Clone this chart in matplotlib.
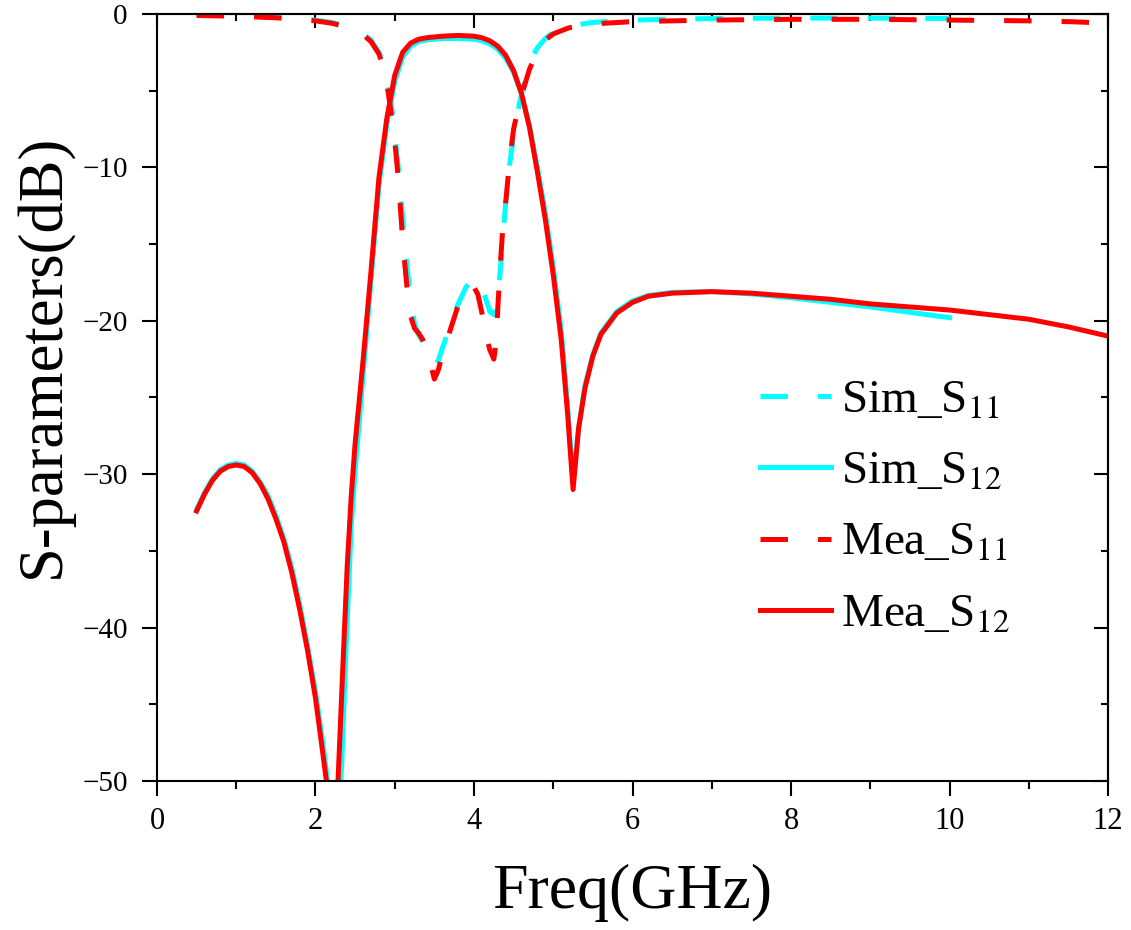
import matplotlib
matplotlib.use('Agg')
import matplotlib.pyplot as plt
from matplotlib.ticker import MultipleLocator

plt.rcParams['font.family'] = ['Liberation Serif', 'DejaVu Serif']
plt.rcParams['mathtext.fontset'] = 'stix'

# Sim S11 (dB)
sim_s11_f = [0.5, 1.0, 1.5, 2.0, 2.2, 2.4, 2.5, 2.6, 2.7, 2.8, 2.85, 2.9, 2.95, 3.0,
             3.05, 3.1, 3.15, 3.2, 3.25, 3.3, 3.4, 3.45, 3.5, 3.55, 3.6, 3.7, 3.8, 3.9,
             4.0, 4.05, 4.1, 4.15, 4.2, 4.25, 4.3, 4.35, 4.4, 4.45, 4.5, 4.55, 4.6, 4.65,
             4.7, 4.75, 4.8, 4.9, 5.0, 5.2, 5.5, 6.0, 7.0, 8.0, 9.0, 10.0]
sim_s11_db = [-0.05, -0.1, -0.2, -0.4, -0.55, -0.8, -1.0, -1.3, -1.7, -2.5, -3.2, -4.1, -5.6, -7.8,
              -10.3, -13.3, -16.2, -18.6, -20.2, -20.9, -21.8, -22.5, -22.9, -22.6, -21.8, -20.3, -18.9, -17.8,
              -17.2, -17.3, -17.8, -18.6, -19.4, -19.6, -18.7, -15.5, -12.3, -9.8, -7.9, -6.4, -5.2, -4.3,
              -3.4, -2.7, -2.2, -1.6, -1.2, -0.8, -0.55, -0.4, -0.3, -0.27, -0.27, -0.3]

# Sim S12 (dB)
sim_s12_f = [0.5, 0.6, 0.7, 0.8, 0.9, 1.0, 1.1, 1.2, 1.3, 1.4, 1.5, 1.6, 1.7, 1.8, 1.9, 2.0,
             2.1, 2.2, 2.27, 2.33, 2.38, 2.45, 2.5, 2.6, 2.7, 2.8, 2.9, 3.0, 3.1, 3.2, 3.3,
             3.4, 3.6, 3.8, 4.0, 4.1, 4.2, 4.3, 4.4, 4.5, 4.6, 4.7, 4.8, 4.9, 5.0, 5.1,
             5.18, 5.25, 5.32, 5.4, 5.5, 5.6, 5.8, 6.0, 6.2, 6.5, 7.0, 7.5, 8.0, 8.5,
             9.0, 9.5, 10.0]
sim_s12_db = [-32.3, -31.2, -30.3, -29.7, -29.4, -29.3, -29.4, -29.8, -30.5, -31.4, -32.7, -34.2, -36.1, -38.5, -41.2, -44.2,
              -47.8, -52.0, -54.0, -49.0, -42.0, -33.5, -29.8, -23.6, -17.4, -11.2, -7.2, -4.4, -2.8, -2.1, -1.8,
              -1.7, -1.6, -1.6, -1.65, -1.75, -1.95, -2.3, -2.9, -3.8, -5.2, -7.3, -10.0, -13.0, -16.5, -20.6,
              -25.5, -30.5, -27.0, -24.2, -22.2, -20.8, -19.4, -18.7, -18.35, -18.15, -18.1, -18.25, -18.5, -18.8,
              -19.1, -19.45, -19.8]

# Mea S11 (dB)
mea_s11_f = [0.5, 1.0, 1.5, 2.0, 2.2, 2.4, 2.5, 2.6, 2.7, 2.8, 2.85, 2.9, 2.95, 3.0,
             3.05, 3.1, 3.15, 3.2, 3.25, 3.3, 3.35, 3.4, 3.45, 3.5, 3.55, 3.6, 3.7, 3.8,
             3.9, 4.0, 4.05, 4.1, 4.15, 4.2, 4.25, 4.28, 4.3, 4.33, 4.36, 4.4, 4.45, 4.5,
             4.55, 4.6, 4.7, 4.8, 4.9, 5.0, 5.2, 5.5, 6.0, 7.0, 8.0, 9.0, 10.0, 11.0,
             11.5, 12.0]
mea_s11_db = [-0.1, -0.15, -0.25, -0.45, -0.6, -0.85, -1.05, -1.35, -1.8, -2.6, -3.4, -4.5, -6.3, -8.3,
              -11.0, -14.8, -17.6, -19.7, -20.5, -20.8, -21.2, -21.8, -22.8, -23.8, -23.2, -22.2, -20.6, -19.0,
              -17.9, -17.8, -18.3, -19.5, -20.9, -21.9, -22.5, -21.4, -19.2, -16.5, -14.2, -12.3, -9.5, -7.5,
              -6.3, -5.3, -3.6, -2.4, -1.7, -1.3, -0.9, -0.65, -0.5, -0.4, -0.35, -0.35, -0.4, -0.45,
              -0.5, -0.6]

# Mea S12 (dB)
mea_s12_f = [0.5, 0.6, 0.7, 0.8, 0.9, 1.0, 1.1, 1.2, 1.3, 1.4, 1.5, 1.6, 1.7, 1.8, 1.9, 2.0,
             2.1, 2.15, 2.22, 2.28, 2.35, 2.4, 2.45, 2.5, 2.6, 2.7, 2.8, 2.9, 3.0, 3.1, 3.2,
             3.3, 3.4, 3.6, 3.8, 4.0, 4.1, 4.2, 4.3, 4.4, 4.5, 4.6, 4.7, 4.8, 4.9, 5.0,
             5.1, 5.18, 5.25, 5.32, 5.4, 5.5, 5.6, 5.8, 6.0, 6.2, 6.5, 7.0, 7.5, 8.0,
             8.5, 9.0, 9.5, 10.0, 10.5, 11.0, 11.5, 12.0]
mea_s12_db = [-32.4, -31.3, -30.4, -29.8, -29.5, -29.4, -29.5, -29.9, -30.6, -31.6, -32.9, -34.4, -36.4, -38.8, -41.5, -44.6,
              -48.5, -50.5, -53.0, -50.5, -42.0, -36.0, -31.5, -28.0, -22.6, -16.8, -10.7, -6.8, -4.0, -2.5, -1.9,
              -1.65, -1.55, -1.45, -1.4, -1.45, -1.55, -1.75, -2.1, -2.7, -3.7, -5.2, -7.4, -10.3, -13.4, -17.0,
              -21.2, -26.0, -31.0, -27.0, -24.4, -22.3, -20.9, -19.5, -18.8, -18.4, -18.2, -18.1, -18.2, -18.4,
              -18.6, -18.9, -19.1, -19.3, -19.6, -19.9, -20.4, -21.0]

cyan = '#00ffff'
red = '#ff0000'
lw = 3.6
dash = (0, (5.5, 6))

fig = plt.figure(figsize=(11.31, 9.3), dpi=100)
ax = fig.add_axes([0.1388, 0.1602, 0.8409, 0.8248])

ax.plot(sim_s11_f, sim_s11_db, color=cyan, lw=lw, linestyle=dash, label=r'Sim_S$_{11}$')
ax.plot(sim_s12_f, sim_s12_db, color=cyan, lw=lw, label=r'Sim_S$_{12}$')
ax.plot(mea_s11_f, mea_s11_db, color=red, lw=lw, linestyle=dash, label=r'Mea_S$_{11}$')
ax.plot(mea_s12_f, mea_s12_db, color=red, lw=lw, label=r'Mea_S$_{12}$')

ax.set_xlim(0, 12)
ax.set_ylim(-50, 0)
ax.xaxis.set_major_locator(MultipleLocator(2))
ax.xaxis.set_minor_locator(MultipleLocator(1))
ax.yaxis.set_major_locator(MultipleLocator(10))
ax.yaxis.set_minor_locator(MultipleLocator(5))
ax.tick_params(which='both', direction='out', width=1.5)
ax.tick_params(which='major', length=11)
ax.tick_params(which='minor', length=5.5)
ax.tick_params(axis='x', pad=8, labelsize=22)
ax.tick_params(axis='y', pad=10, labelsize=21)
for s in ax.spines.values():
    s.set_linewidth(1.5)

# mirrored ticks on top and right, pointing inward
top = ax.secondary_xaxis('top')
top.xaxis.set_major_locator(MultipleLocator(2))
top.xaxis.set_minor_locator(MultipleLocator(1))
top.tick_params(which='both', direction='in', width=1.5, labeltop=False)
top.tick_params(which='major', length=10)
top.tick_params(which='minor', length=5)
right = ax.secondary_yaxis('right')
right.yaxis.set_major_locator(MultipleLocator(10))
right.yaxis.set_minor_locator(MultipleLocator(5))
right.tick_params(which='both', direction='in', width=1.5, labelright=False)
right.tick_params(which='major', length=10)
right.tick_params(which='minor', length=5)
for sec in (top, right):
    for s in sec.spines.values():
        s.set_linewidth(1.5)

ax.set_xlabel('Freq(GHz)', fontsize=46, labelpad=20)
ax.set_ylabel('S-parameters(dB)', fontsize=45)
ax.yaxis.set_label_coords(-0.088, 0.554)

ax.legend(loc='center left', bbox_to_anchor=(0.634, 0.356), frameon=False, fontsize=34,
          handlelength=1.5, handletextpad=0.22, labelspacing=0.6, borderpad=0, borderaxespad=0)

fig.savefig('out.png', dpi=100)
